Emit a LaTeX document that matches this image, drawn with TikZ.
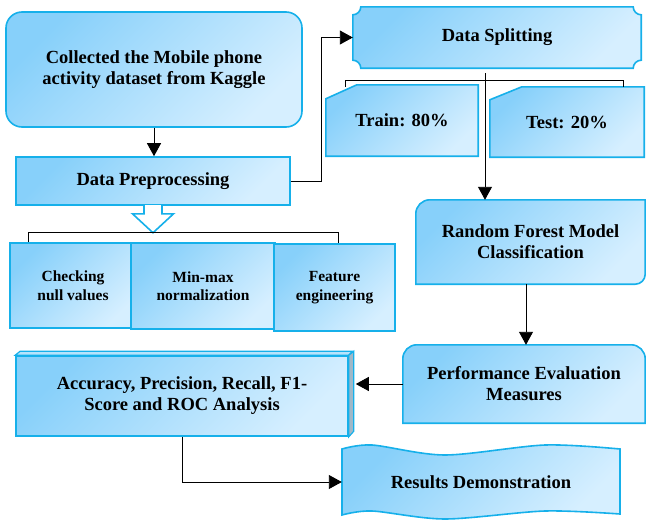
\documentclass[tikz,border=0pt]{standalone}
\usepackage{fontspec}
\setmainfont{Liberation Serif}
\usetikzlibrary{arrows.meta,backgrounds}
\definecolor{boxline}{RGB}{22,176,234}
\definecolor{boxdark}{RGB}{135,208,250}
\definecolor{boxlight}{RGB}{214,239,255}
\definecolor{boxside}{RGB}{160,184,200}
\tikzset{
  blk/.style = {draw = boxline, line width = 1.6pt, top color = boxdark,
                bottom color = boxlight, shading angle = 45},
  txt/.style = {font = \bfseries\fontsize{18.5}{21}\selectfont, align = center},
  sml/.style = {font = \bfseries\fontsize{15.5}{18.5}\selectfont, align = center},
  arr/.style = {-{Triangle[width = 14pt, length = 13pt]}, line width = .9pt},
}
\begin{document}
\begin{tikzpicture}[x = 1pt, y = -1pt]
  \useasboundingbox (0,0) rectangle (646,520);
  % left column
  \node [blk, txt, rounded corners = 16pt, minimum width = 296pt,
         minimum height = 115pt] (collect) at (154,69.5)
    {Collected the Mobile phone\\activity dataset from Kaggle};
  \node [blk, txt, minimum width = 274pt, minimum height = 48pt]
    (prep) at (153,181) {Data Preprocessing};
  \node [blk, sml, minimum width = 126pt, minimum height = 85pt]
    (check) at (73,285.5) {Checking\\null values};
  \node [blk, sml, minimum width = 144pt, minimum height = 86pt]
    (minmax) at (203,286) {Min-max\\normalization};
  \node [blk, sml, minimum width = 121pt, minimum height = 87pt]
    (feat) at (334.5,287.5) {Feature\\engineering};
  \node [blk, txt, minimum width = 332pt, minimum height = 80pt]
    (acc) at (182,396) {Accuracy, Precision, Recall, F1-\\Score and ROC Analysis};
  \draw [draw = boxline, line width = 1.2pt, fill = boxdark!60!white]
    (acc.north west) -- ++(5,-4) -- ++(332,0) -- (acc.north east) -- cycle;
  \draw [draw = boxline, line width = 1.2pt, fill = boxside]
    (acc.north east) -- ++(5,-4) -- ++(0,80) -- (acc.south east) -- cycle;
  % right column
  \node [txt, minimum width = 288pt, minimum height = 61pt]
    (split) at (497,37.5) {Data Splitting};
  \node [txt, minimum width = 152pt, minimum height = 71pt]
    (train) at (402,120.5) {\raisebox{-5pt}{Train: 80\%}};
  \node [txt, minimum width = 154pt, minimum height = 70pt]
    (test) at (567,122) {\raisebox{-5pt}{Test: 20\%}};
  \node [txt, minimum width = 229pt, minimum height = 84pt]
    (rf) at (530.5,242) {Random Forest Model\\Classification};
  \node [txt, minimum width = 242pt, minimum height = 78pt]
    (perf) at (524,384) {Performance Evaluation\\Measures};
  \node [txt, minimum width = 278pt, minimum height = 68pt]
    (result) at (481,482) {Results Demonstration};
  \begin{scope}[on background layer]
    \draw [blk] ([xshift=8pt]split.north west) -- ([xshift=-8pt]split.north east)
      arc [start angle = 180, end angle = 90, radius = 8] -- ([yshift=8pt]split.south east)
      arc [start angle = 270, end angle = 180, radius = 8] -- ([xshift=8pt]split.south west)
      arc [start angle = 360, end angle = 270, radius = 8] -- ([yshift=-8pt]split.north west)
      arc [start angle = 90, end angle = 0, radius = 8] -- cycle;
    \draw [blk] (train.south west) -- ([yshift=-14pt]train.north west)
      -- ([xshift=31pt]train.north west) -- (train.north east) -- (train.south east) -- cycle;
    \draw [blk] (test.south west) -- ([yshift=-13pt]test.north west)
      -- ([xshift=32pt]test.north west) -- (test.north east) -- (test.south east) -- cycle;
    \draw [blk] (rf.south west) -- ([yshift=-14pt]rf.north west)
      arc [start angle = 180, end angle = 270, radius = 14] -- (rf.north east)
      -- ([yshift=10pt]rf.south east)
      arc [start angle = 0, end angle = 90, radius = 10] -- cycle;
    \draw [blk] (perf.south west) -- ([yshift=-14pt]perf.north west)
      arc [start angle = 180, end angle = 270, radius = 14] -- ([xshift=-14pt]perf.north east)
      arc [start angle = 270, end angle = 360, radius = 14] -- (perf.south east) -- cycle;
    \draw [blk] (342,515) -- plot [smooth] coordinates
      {(342,449) (372,445) (445,455) (545,445) (620,449)}
      -- plot [smooth] coordinates
      {(620,514) (545,511) (445,519) (372,511) (342,515)} -- cycle;
  \end{scope}
  % hollow arrow and brackets
  \draw [draw = boxline, line width = 1.6pt, fill = white]
    ([xshift=-9pt,yshift=.8pt]prep.south) -- ++(0,8.8) -- ++(-11.5,0)
    -- ++(20.5,19) -- ++(20.5,-19) -- ++(-11.5,0) -- ++(0,-8.8);
  \draw [line width = .9pt] ([xshift=-45pt]check.north) -- ++(0,-10)
    -| ([xshift=3.5pt]feat.north);
  \draw [line width = .9pt] ([xshift=20pt,yshift=-2pt]train.north west) -- ++(0,-6)
    -| ([xshift=-21pt]test.north east);
  % connectors
  \draw [arr] (collect.south) -- (collect.south |- prep.north);
  \draw [arr] (prep.east) -- ++(31,0) |- (split.west);
  \draw [arr, shorten <= 5pt] ([xshift=-12pt]split.south)
    -- ([xshift=-12pt]split.south |- rf.north);
  \draw [arr] ([xshift=2pt]perf.north |- rf.south) -- ([xshift=2pt]perf.north);
  \draw [arr, shorten >= 7pt] (perf.west) -- (perf.west -| acc.east);
  \draw [arr] (acc.south) |- (result.west);
\end{tikzpicture}
\end{document}
